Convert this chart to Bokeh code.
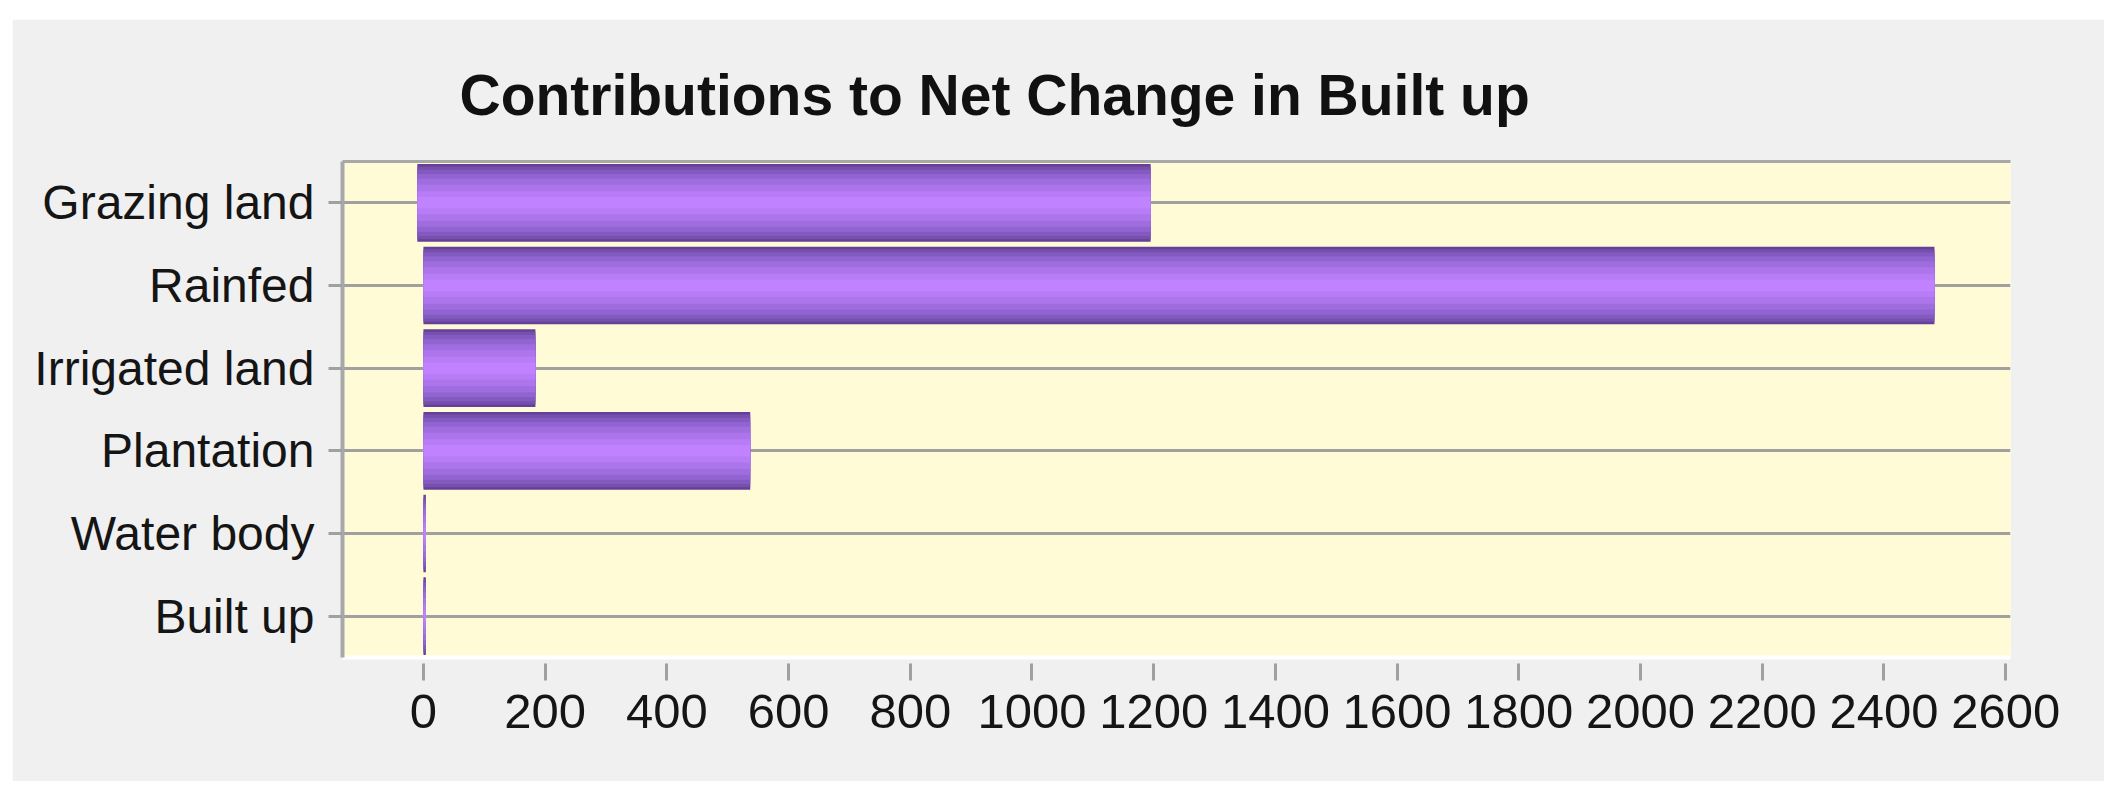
from bokeh.plotting import figure
from bokeh.models import FactorRange, Range1d, FixedTicker, ColumnDataSource, LinearAxis, CategoricalAxis
from bokeh.embed import file_html
from bokeh.resources import INLINE

# ---- data ----
categories = ["Grazing land", "Rainfed", "Irrigated land", "Plantation", "Water body", "Built up"]
values = [1195, 2483, 184, 537, 4, 4]
starts = [-10, 0, 0, 0, 0, 0]
x_ticks = [0, 200, 400, 600, 800, 1000, 1200, 1400, 1600, 1800, 2000, 2200, 2400, 2600]
title_text = "Contributions to Net Change in Built up"

FONT = "Liberation Sans"

p = figure(
    width=2092, height=762,
    y_range=FactorRange(factors=list(reversed(categories)), range_padding=0),
    x_range=Range1d(-133, 2608),
    output_backend="svg", toolbar_location=None,
    min_border_left=330, min_border_right=94, min_border_top=142, min_border_bottom=124,
    x_axis_location=None, y_axis_location=None,
)
p.margin = (19, 0, 0, 12)
p.background_fill_color = "#fffbd6"
p.border_fill_color = "#f0f0f0"
p.outline_line_color = None

src = ColumnDataSource(dict(cat=categories, val=values, start=starts))

# layered bars to imitate the cylindrical gradient
layers = [
    (0.94, "#683f98"),
    (0.88, "#7550ae"),
    (0.80, "#845ac1"),
    (0.70, "#9264d2"),
    (0.58, "#a06ddf"),
    (0.44, "#ad75eb"),
    (0.28, "#b87cf6"),
    (0.14, "#c082fe"),
]
for h, c in layers:
    p.hbar(y="cat", left="start", right="val", height=h, source=src,
           fill_color=c, line_color=None)

# x axis (below)
xa = LinearAxis(ticker=FixedTicker(ticks=x_ticks))
xa.axis_line_color = "white"
xa.axis_line_width = 4
xa.major_tick_in = -6
xa.major_tick_out = 23
xa.major_tick_line_color = "#a0a0a0"
xa.major_tick_line_width = 3
xa.minor_tick_line_color = None
xa.major_label_standoff = 14
xa.major_label_text_font = FONT
xa.major_label_text_font_size = "49px"
xa.major_label_text_color = "#151515"
p.add_layout(xa, "below")

# y axis (left)
ya = CategoricalAxis()
ya.axis_line_color = "#a8a8a8"
ya.axis_line_width = 4
ya.major_tick_in = 0
ya.major_tick_out = 14
ya.major_tick_line_color = "#a0a0a0"
ya.major_tick_line_width = 3
ya.major_label_standoff = 14
ya.major_label_text_font = FONT
ya.major_label_text_font_size = "48px"
ya.major_label_text_color = "#151515"
p.add_layout(ya, "left")

# top border
ta = LinearAxis(ticker=FixedTicker(ticks=[]))
ta.axis_line_color = "#a8a8a8"
ta.axis_line_width = 3
ta.major_label_text_font_size = "0px"
ta.major_tick_line_color = None
ta.minor_tick_line_color = None
p.add_layout(ta, "above")

p.xgrid.grid_line_color = None
p.ygrid.grid_line_color = "#a0a0a0"
p.ygrid.grid_line_width = 3

p.title.text = title_text
p.title.text_font = FONT
p.title.text_font_style = "bold"
p.title.text_font_size = "57px"
p.title.text_color = "#111111"
p.title.align = "left"
p.title.offset = 117
p.title.standoff = 69

open("out.html", "w").write(file_html(p, INLINE))
